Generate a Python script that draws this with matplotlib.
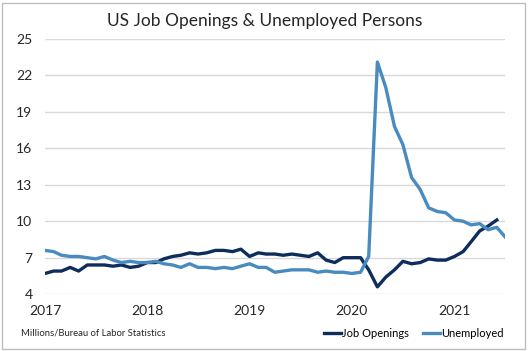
import matplotlib.pyplot as plt
import pandas as pd
from matplotlib.patches import Rectangle

plt.rcParams['font.family'] = ['Lato', 'DejaVu Sans']

# Job openings, Jan 2017 - Jun 2021 (millions)
job_openings = [
    5.7, 5.9, 5.9, 6.2, 5.9, 6.4, 6.4, 6.4, 6.3, 6.4, 6.2, 6.3,
    6.6, 6.6, 6.9, 7.1, 7.2, 7.4, 7.3, 7.4, 7.6, 7.6, 7.5, 7.7,
    7.1, 7.4, 7.3, 7.3, 7.2, 7.3, 7.2, 7.1, 7.4, 6.8, 6.6, 7.0,
    7.0, 7.0, 6.0, 4.6, 5.4, 6.0, 6.7, 6.5, 6.6, 6.9, 6.8, 6.8,
    7.1, 7.5, 8.3, 9.2, 9.6, 10.1,
]

# Unemployed persons, Jan 2017 - Jul 2021 (millions)
unemployed = [
    7.6, 7.5, 7.2, 7.1, 7.1, 7.0, 6.9, 7.1, 6.8, 6.6, 6.7, 6.6,
    6.6, 6.7, 6.5, 6.4, 6.2, 6.5, 6.2, 6.2, 6.1, 6.2, 6.1, 6.3,
    6.5, 6.2, 6.2, 5.8, 5.9, 6.0, 6.0, 6.0, 5.8, 5.9, 5.8, 5.8,
    5.7, 5.8, 7.1, 23.1, 21.0, 17.8, 16.3, 13.6, 12.6, 11.1, 10.8, 10.7,
    10.1, 10.0, 9.7, 9.8, 9.3, 9.5, 8.7,
]

years = ['2017', '2018', '2019', '2020', '2021']
y_ticks = [4, 7, 10, 13, 16, 19, 22, 25]

months_u = pd.date_range('2017-01-01', periods=len(unemployed), freq='MS')
months_j = pd.date_range('2017-01-01', periods=len(job_openings), freq='MS')

fig = plt.figure(figsize=(5.29, 3.51), dpi=100)
ax = fig.add_axes([0.085, 0.162, 0.87, 0.727])

dark = '#0f2d5c'
light = '#4a8bbf'
ax.plot(months_j, job_openings, color=dark, lw=2.4, label='Job Openings', solid_joinstyle='round')
ax.plot(months_u, unemployed, color=light, lw=2.4, label='Unemployed', solid_joinstyle='round')

ax.set_ylim(4, 25)
ax.set_yticks(y_ticks)
ax.set_xlim(months_u[0], months_u[-1])
ax.set_xticks([pd.Timestamp(y + '-01-01') for y in years])
ax.set_xticklabels(years)
ax.grid(axis='y', color='#d9d9d9', lw=1)
ax.set_axisbelow(True)
for s in ax.spines.values():
    s.set_visible(False)
ax.tick_params(length=0, labelsize=10, colors='#262626')
ax.tick_params(axis='y', pad=9)
ax.tick_params(axis='x', pad=8)

fig.text(0.5, 0.94, 'US Job Openings & Unemployed Persons', ha='center', va='center',
         fontsize=12.5, color='#262626')
fig.text(0.04, 0.05, 'Millions/Bureau of Labor Statistics', ha='left', va='center',
         fontsize=6.8, color='#262626')
fig.legend(loc='center right', bbox_to_anchor=(0.952, 0.05), ncol=2, frameon=False,
           fontsize=8, handlelength=1.5, handletextpad=0.1, columnspacing=1.3,
           borderpad=0, borderaxespad=0)

fig.patches.append(Rectangle((0.003, 0.006), 0.99, 0.985, transform=fig.transFigure,
                             fill=False, edgecolor='#bfbfbf', lw=1))

fig.savefig('out.png', dpi=100)
